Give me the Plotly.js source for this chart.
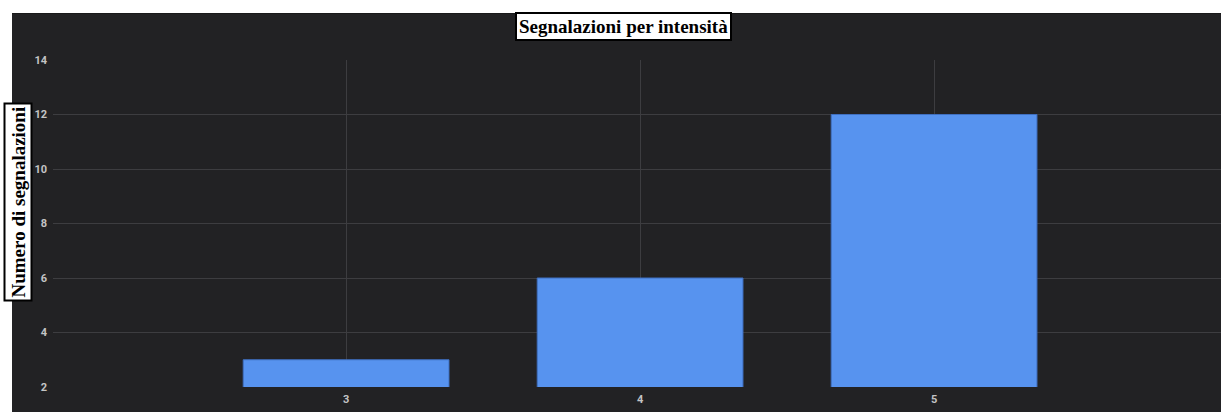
<!DOCTYPE html>
<html>
<head>
<meta charset="utf-8">
<script src="https://cdn.plot.ly/plotly-3.0.1.min.js"></script>
<style>html,body{margin:0;padding:0;background:#fff;}#chart{width:1221px;height:412px;}</style>
</head>
<body>
<div id="chart"></div>
<script>
const intensities = [3, 4, 5];
const reportCounts = [3, 6, 12];
const yTickValues = [2, 4, 6, 8, 10, 12, 14];
const chartTitle = "Segnalazioni per intensità";
const yTitle = "Numero di segnalazioni";

const W = 1221, H = 412, L = 53, T = 60, B = 25;
const pw = W - L, ph = H - T - B;
const px = x => (x - L) / pw;
const py = y => (H - B - y) / ph;

const trace = {
  type: 'bar',
  x: intensities,
  y: reportCounts,
  width: 0.7,
  marker: {color: '#5793ef', line: {color: '#3f6fc0', width: 1}},
  hoverinfo: 'x+y'
};

const tickFont = {family: 'Roboto, sans-serif', size: 11, color: '#c4c4c4', weight: 'bold'};

const layout = {
  width: W, height: H,
  margin: {l: L, r: 0, t: T, b: B, pad: 0},
  paper_bgcolor: '#222224',
  plot_bgcolor: '#222224',
  showlegend: false,
  font: {family: 'Roboto, sans-serif', color: '#c4c4c4', size: 11},
  xaxis: {
    range: [2.003, 5.976],
    tickvals: intensities,
    ticktext: intensities.map(String),
    showgrid: true, gridcolor: '#3d3d40', gridwidth: 1,
    zeroline: false, showline: false, ticks: '',
    ticklabelstandoff: 4,
    tickfont: tickFont
  },
  yaxis: {
    range: [2, 14],
    tickvals: yTickValues,
    showgrid: true, gridcolor: '#3d3d40', gridwidth: 1,
    zeroline: false, showline: false, ticks: '',
    ticklabelstandoff: 5,
    tickfont: tickFont
  },
  shapes: [
    {type: 'rect', xref: 'paper', yref: 'paper', layer: 'below',
     x0: -0.2, x1: 1.2, y0: py(13), y1: py(-5), fillcolor: '#ffffff', line: {width: 0}},
    {type: 'rect', xref: 'paper', yref: 'paper', layer: 'below',
     x0: px(-5), x1: px(12), y0: -0.2, y1: 1.3, fillcolor: '#ffffff', line: {width: 0}},
    {type: 'line', xref: 'paper', yref: 'paper', layer: 'below',
     x0: px(12), x1: 1.1, y0: py(13.5), y1: py(13.5), line: {color: '#19191a', width: 1}}
  ],
  annotations: [
    {text: '<b>' + chartTitle + '</b>', xref: 'paper', yref: 'paper',
     x: px(623.5), y: py(26.5), xanchor: 'center', yanchor: 'middle', showarrow: false,
     font: {family: '"Liberation Serif", "Times New Roman", serif', size: 19, color: '#000'},
     bgcolor: '#ffffff', bordercolor: '#000000', borderwidth: 2, borderpad: 2},
    {text: '<b>' + yTitle + '</b>', xref: 'paper', yref: 'paper', textangle: -90,
     x: px(18), y: py(202.5), xanchor: 'center', yanchor: 'middle', showarrow: false,
     font: {family: '"Liberation Serif", "Times New Roman", serif', size: 19, color: '#000'},
     bgcolor: '#ffffff', bordercolor: '#000000', borderwidth: 2, borderpad: 2}
  ]
};

Plotly.newPlot('chart', [trace], layout, {displayModeBar: false, responsive: false});
</script>
</body>
</html>
